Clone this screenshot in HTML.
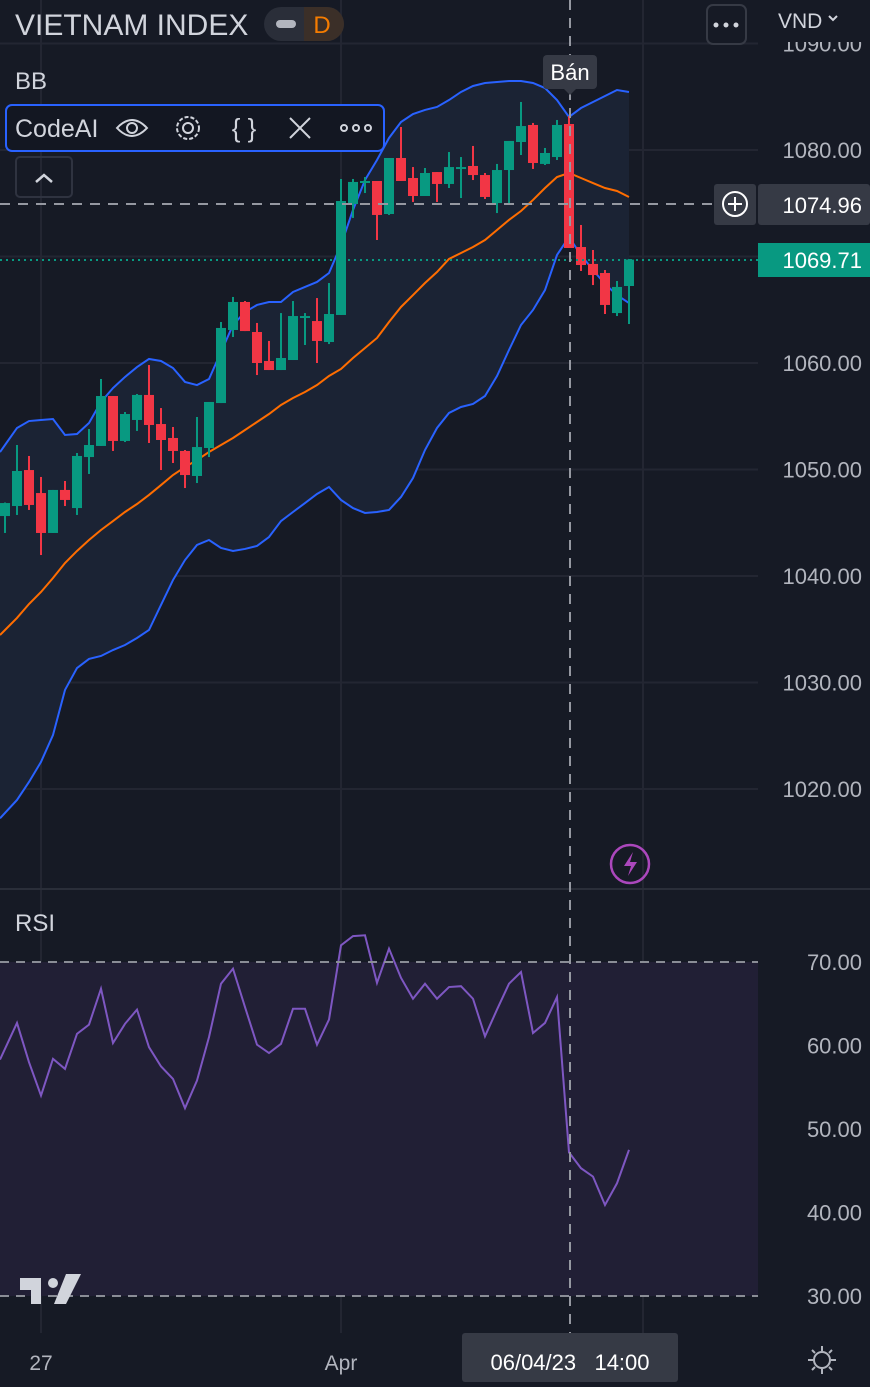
<!DOCTYPE html>
<html><head><meta charset="utf-8">
<style>
html,body{margin:0;padding:0;background:#161a25;}
body{width:870px;height:1382px;overflow:hidden;font-family:"Liberation Sans","Noto Sans CJK JP",sans-serif;}
svg text{font-family:"Liberation Sans","Noto Sans CJK JP",sans-serif;}
</style></head>
<body>
<svg id="chart" width="870" height="1382" viewBox="0 0 870 1382" xmlns="http://www.w3.org/2000/svg">
<rect x="0" y="0" width="870" height="1382" fill="#161a25"/>
<g id="grid"></g>
<rect x="0" y="962" width="758" height="334" fill="#211f35"/>
<g id="bands"></g>
<g id="candles"></g>
<g id="rsi"></g>
<line x1="0" y1="889" x2="870" y2="889" stroke="#2a2e39" stroke-width="2"/>
<line x1="0" y1="962" x2="758" y2="962" stroke="#8a8d96" stroke-width="2" stroke-dasharray="9,7"/>
<line x1="0" y1="1296" x2="758" y2="1296" stroke="#8a8d96" stroke-width="2" stroke-dasharray="9,7"/>
<g id="axis"></g>
<rect x="758" y="0" width="112" height="42" fill="#161a25"/>
<line x1="0" y1="260" x2="758" y2="260" stroke="#089981" stroke-width="2" stroke-dasharray="2,4"/>
<line x1="0" y1="204" x2="716" y2="204" stroke="#9598a1" stroke-width="2" stroke-dasharray="10,8"/>
<line x1="570" y1="0" x2="570" y2="1333" stroke="#9598a1" stroke-width="2" stroke-dasharray="10,8"/>
<rect x="714" y="184" width="42" height="41" rx="3" fill="#363a45"/>
<circle cx="735" cy="204" r="12" fill="none" stroke="#fff" stroke-width="2"/>
<path d="M735 197v14M728 204h14" stroke="#fff" stroke-width="2"/>
<rect x="758" y="184" width="112" height="41" rx="3" fill="#363a45"/>
<text x="862" y="213" text-anchor="end" font-size="22" fill="#fff">1074.96</text>
<rect x="758" y="243" width="112" height="34" fill="#089981"/>
<text x="862" y="268" text-anchor="end" font-size="22" fill="#fff">1069.71</text>
<rect x="543" y="55" width="54" height="34" rx="4" fill="#363a45"/>
<path d="M564 89l6 6 6-6z" fill="#363a45"/>
<text x="570" y="80" text-anchor="middle" font-size="22" fill="#fff">Bán</text>
<text x="15" y="35" font-size="30" fill="#d1d4dc">VIETNAM INDEX</text>
<rect x="264" y="7" width="80" height="34" rx="17" fill="#2a2e39"/>
<path d="M304 7h23a17 17 0 0 1 0 34h-23z" fill="#3b2f28"/>
<rect x="276" y="20" width="20" height="8" rx="4" fill="#b2b5be"/>
<text x="322" y="33" text-anchor="middle" font-size="24" fill="#f57c00">D</text>
<text x="15" y="89" font-size="24" fill="#d1d4dc">BB</text>
<rect x="6" y="105" width="378" height="46" rx="6" fill="#131722" stroke="#2962ff" stroke-width="2"/>
<text x="15" y="137" font-size="25" fill="#d1d4dc">CodeAI</text>
<g fill="none" stroke="#d1d4dc" stroke-width="2"><path d="M117 128q15-16 30 0q-15 16-30 0z"/><circle cx="132" cy="128" r="5"/></g>
<g fill="none" stroke="#d1d4dc" stroke-width="2"><circle cx="188" cy="128" r="11" stroke-dasharray="4,2"/><circle cx="188" cy="128" r="5"/></g>
<text x="244" y="137" text-anchor="middle" font-size="26" fill="#d1d4dc">{ }</text>
<path d="M290 118l20 20M310 118l-20 20" stroke="#d1d4dc" stroke-width="2"/>
<g fill="none" stroke="#d1d4dc" stroke-width="2"><circle cx="344" cy="128" r="3"/><circle cx="356" cy="128" r="3"/><circle cx="368" cy="128" r="3"/></g>
<rect x="16" y="157" width="56" height="40" rx="4" fill="none" stroke="#2f3340" stroke-width="2"/>
<path d="M36 182l8-7 8 7" fill="none" stroke="#d1d4dc" stroke-width="2.5"/>
<rect x="707" y="5" width="39" height="39" rx="6" fill="#161a25" stroke="#363a45" stroke-width="2"/>
<g fill="#d1d4dc"><circle cx="716" cy="25" r="2.5"/><circle cx="726" cy="25" r="2.5"/><circle cx="736" cy="25" r="2.5"/></g>
<text x="778" y="28" font-size="21" fill="#d1d4dc">VND</text>
<path d="M829 16l4 4 4-4" fill="none" stroke="#d1d4dc" stroke-width="2"/>
<circle cx="630" cy="864" r="19" fill="none" stroke="#ab47bc" stroke-width="2.5"/>
<path d="M633 852l-9 14h7l-3 10 9-14h-7z" fill="#ab47bc"/>
<text x="15" y="931" font-size="24" fill="#d1d4dc">RSI</text>
<g fill="#d1d4dc"><path d="M20 1290h18v-12h-18z"/><path d="M31 1278h10v26h-10z"/><circle cx="53" cy="1283" r="5"/><path d="M66 1274h15l-15 30h-12z"/></g>
<rect x="462" y="1333" width="216" height="49" rx="3" fill="#363a45"/>
<text x="570" y="1370" text-anchor="middle" font-size="22" fill="#fff" xml:space="preserve">06/04/23   14:00</text>
<text x="41" y="1370" text-anchor="middle" font-size="21" fill="#b2b5be">27</text>
<text x="341" y="1370" text-anchor="middle" font-size="21" fill="#b2b5be">Apr</text>
<g fill="none" stroke="#b2b5be" stroke-width="2"><circle cx="822" cy="1360" r="8"/><path d="M822 1346v5M822 1369v5M808 1360h5M831 1360h5M812 1350l3 3M829 1367l3 3M832 1350l-3 3M815 1367l-3 3"/></g>
</svg>
<script>
// ---- data ----
const opens  = [1045.63,1046.57,1049.95,1047.79,1044.04,1048.08,1046.38,1051.17,1052.21,1056.90,1052.68,1054.65,1057.00,1054.27,1052.96,1051.74,1049.39,1052.02,1056.24,1063.10,1065.73,1062.91,1060.19,1059.34,1060.28,1064.32,1063.94,1061.97,1064.51,1074.93,1076.90,1077.09,1073.99,1079.25,1077.37,1075.68,1077.93,1076.81,1078.31,1078.50,1077.65,1075.02,1078.12,1080.75,1082.35,1078.69,1079.34,1082.44,1070.89,1069.30,1068.45,1064.69,1067.23];
const highs  = [1046.90,1052.30,1051.27,1049.30,1048.08,1048.92,1051.55,1053.80,1058.50,1056.90,1055.40,1057.09,1059.81,1055.77,1053.99,1051.83,1054.93,1056.34,1063.85,1066.20,1065.82,1063.76,1062.07,1064.69,1065.82,1064.69,1066.10,1067.51,1077.28,1077.28,1077.46,1077.09,1079.25,1082.16,1078.40,1078.31,1077.93,1079.81,1079.34,1080.38,1077.84,1078.69,1080.85,1084.51,1082.54,1080.19,1082.82,1083.19,1072.96,1070.61,1068.73,1067.70,1069.77];
const lows   = [1044.04,1045.73,1046.20,1041.97,1044.04,1046.57,1045.73,1049.58,1052.21,1051.74,1052.58,1053.62,1052.49,1049.95,1050.61,1048.26,1048.73,1051.17,1056.24,1062.44,1063.00,1058.87,1059.34,1059.34,1060.28,1061.69,1060.00,1061.78,1064.51,1073.62,1075.96,1071.55,1073.90,1077.09,1075.12,1075.68,1075.12,1076.43,1075.49,1077.18,1075.40,1074.08,1075.02,1079.53,1078.22,1078.59,1079.06,1070.80,1068.64,1067.32,1064.60,1064.41,1063.66];
const closes = [1046.85,1049.86,1046.67,1044.04,1048.08,1047.14,1051.27,1052.30,1056.90,1052.68,1055.21,1057.00,1054.18,1052.77,1051.74,1049.48,1052.11,1056.34,1063.29,1065.73,1063.00,1060.00,1059.34,1060.47,1064.41,1064.41,1062.07,1064.60,1075.21,1077.00,1077.09,1073.90,1079.25,1077.09,1075.68,1077.84,1076.81,1078.40,1078.40,1077.65,1075.59,1078.12,1080.85,1082.25,1078.78,1079.72,1082.35,1070.80,1069.20,1068.26,1065.45,1067.14,1069.71];
const bbUpper = [1052.30,1053.90,1054.55,1054.65,1054.74,1053.24,1053.33,1054.37,1056.34,1057.65,1058.69,1059.62,1060.38,1060.19,1059.53,1058.22,1057.93,1058.50,1061.03,1063.57,1064.79,1065.45,1065.73,1065.73,1066.67,1067.14,1067.61,1068.45,1071.08,1074.37,1077.18,1079.06,1081.13,1082.63,1083.38,1083.76,1084.04,1084.69,1085.45,1086.01,1086.29,1086.38,1086.48,1086.48,1086.29,1085.82,1084.69,1083.10,1083.94,1084.51,1085.07,1085.63,1085.45];
const bbBasis = [1034.93,1036.06,1037.37,1038.50,1039.81,1041.22,1042.35,1043.38,1044.32,1045.16,1046.01,1046.76,1047.61,1048.54,1049.48,1050.23,1050.89,1051.64,1052.30,1052.96,1053.71,1054.46,1055.21,1056.06,1056.71,1057.28,1057.93,1058.78,1059.44,1060.47,1061.41,1062.35,1063.85,1065.26,1066.38,1067.51,1068.54,1069.77,1070.33,1070.89,1071.55,1072.49,1073.43,1074.27,1075.31,1076.43,1077.46,1077.84,1077.37,1076.90,1076.43,1076.15,1075.59];
const bbLower = [1017.75,1018.97,1020.66,1022.54,1025.07,1029.30,1031.36,1032.21,1032.49,1033.05,1033.52,1034.18,1034.93,1037.28,1039.62,1041.50,1042.91,1043.38,1042.63,1042.35,1042.54,1042.82,1043.66,1045.16,1046.01,1046.85,1047.70,1048.36,1047.14,1046.38,1045.92,1046.01,1046.20,1047.42,1049.20,1051.83,1053.90,1055.31,1055.87,1056.15,1056.90,1058.78,1061.22,1063.57,1064.98,1066.85,1070.14,1071.83,1070.14,1068.73,1067.42,1066.38,1065.63];
const rsiValues = [59.6,62.7,58.0,54.0,58.4,57.2,61.4,62.5,66.8,60.3,62.6,64.3,59.8,57.5,56.0,52.5,55.8,61.0,67.4,69.2,64.6,60.1,59.1,60.2,64.4,64.4,60.1,63.1,72.0,73.1,73.2,67.5,71.6,68.1,65.6,67.4,65.6,67.0,67.1,65.6,61.1,64.3,67.4,68.8,61.5,62.7,65.8,47.2,45.3,44.3,40.9,43.5,47.5];
const priceTicks = [1090,1080,1070,1060,1050,1040,1030,1020];
const priceTickLabels = ["1090.00","1080.00","","1060.00","1050.00","1040.00","1030.00","1020.00"];
const rsiTicks = [70,60,50,40,30];
const rsiTickLabels = ["70.00","60.00","50.00","40.00","30.00"];

// ---- axes ----
const xOf = i => 5 + 12*i;
const yP = v => 150 + (1080 - v)*10.65;
const yR = v => 962 + (70 - v)*8.35;
const NS = "http://www.w3.org/2000/svg";
function mk(tag, attrs, parent){const e=document.createElementNS(NS,tag);for(const k in attrs)e.setAttribute(k,attrs[k]);parent.appendChild(e);return e;}
function pts(arr, yf){
  const first = yf(arr[0]) - (yf(arr[1]) - yf(arr[0]))*5/12;
  return ['0,'+first].concat(arr.map((v,i)=>xOf(i)+','+yf(v)));
}

const grid=document.getElementById('grid');
priceTicks.forEach(v=>{
  const l=mk('line',{x1:0,x2:758,y1:yP(v),y2:yP(v),stroke:'#232632','stroke-width':2},grid);
  
  
});
rsiTicks.slice(1,4).forEach(v=>{
  const l=mk('line',{x1:0,x2:758,y1:yR(v),y2:yR(v),stroke:'#2f2d44','stroke-width':2},grid);
  
  
});
[41,341,643].forEach(gx=>{
  const l=mk('line',{x1:gx,x2:gx,y1:0,y2:1333,stroke:'#232632','stroke-width':2},grid);
  
  
});

const bands=document.getElementById('bands');
const up=pts(bbUpper,yP), lo=pts(bbLower,yP);
const fillD='M'+up.join(' L')+' L'+lo.slice().reverse().join(' L')+'Z';
const bf=mk('path',{d:fillD,fill:'#1b2334'},bands);


[[bbUpper,'#2962ff','bb-upper'],[bbBasis,'#ff6d00','bb-basis'],[bbLower,'#2962ff','bb-lower']].forEach(([arr,c,n])=>{
  const p=mk('polyline',{points:pts(arr,yP).join(' '),fill:'none',stroke:c,'stroke-width':2},bands);
  
  
});

const cg=document.getElementById('candles');
opens.forEach((o,i)=>{
  const c=closes[i], isUp=c>=o, col=isUp?'#089981':'#f23645', x=xOf(i);
  const w=mk('line',{x1:x,x2:x,y1:yP(highs[i]),y2:yP(lows[i]),stroke:col,'stroke-width':2},cg);
  
  
  const top=yP(Math.max(o,c)), h=Math.max(2,Math.abs(yP(o)-yP(c)));
  const b=mk('rect',{x:x-5,y:top,width:10,height:h,fill:col},cg);
  
  
});

const rg=document.getElementById('rsi');
const rl=mk('polyline',{points:pts(rsiValues,yR).join(' '),fill:'none',stroke:'#7e57c2','stroke-width':2},rg);



const ax=document.getElementById('axis');
priceTicks.forEach((v,i)=>{
  if(!priceTickLabels[i])return;
  const t=mk('text',{x:862,y:yP(v)+8,'text-anchor':'end','font-size':22,fill:'#b2b5be'},ax);
  t.textContent=priceTickLabels[i];
  
  
});
rsiTicks.forEach((v,i)=>{
  const t=mk('text',{x:862,y:yR(v)+8,'text-anchor':'end','font-size':22,fill:'#b2b5be'},ax);
  t.textContent=rsiTickLabels[i];
  
  
});
</script>
</body></html>
